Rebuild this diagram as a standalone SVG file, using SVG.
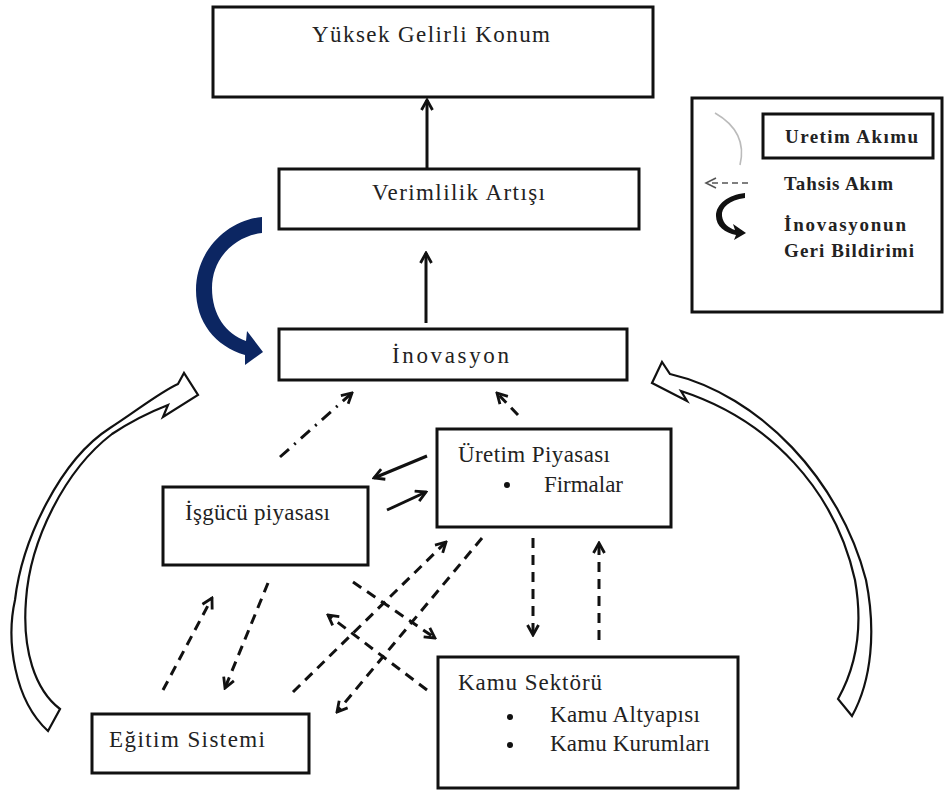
<svg xmlns="http://www.w3.org/2000/svg" width="945" height="792" viewBox="0 0 945 792">
  <style>
    .box { fill: #fff; stroke: #111; stroke-width: 3; }
    .lbl { font-family: "Liberation Serif", "Times New Roman", serif; font-size: 23px; fill: #222; }
    .leg { font-family: "Liberation Serif", "Times New Roman", serif; font-size: 19px; font-weight: bold; fill: #222; }
    .solid { fill: none; stroke: #111; stroke-width: 3; }
    .dash { fill: none; stroke: #111; stroke-width: 3; stroke-dasharray: 10 7; }
    .dashdot { fill: none; stroke: #111; stroke-width: 3; stroke-dasharray: 12 7 2 7; }
    .hollow { fill: #fff; stroke: #111; stroke-width: 2.2; stroke-linejoin: miter; }
  </style>
  <defs>
    <marker id="chev" viewBox="0 0 14 14" refX="12" refY="7" markerWidth="14" markerHeight="14" markerUnits="userSpaceOnUse" orient="auto">
      <polyline points="2,1.5 12,7 2,12.5" fill="none" stroke="#111" stroke-width="2.8" stroke-linejoin="miter"/>
    </marker>
  </defs>

  <rect width="945" height="792" fill="#fff"/>

  <!-- feedback loops -->
  <g id="feedback">
    <path d="M262,217 C228,220 196,250 196,290 C196,322 215,346 245,355 L245,365 L263,352 L247,331 L246,341 C226,334 212,315 212,288 C212,258 235,236 262,233 Z" fill="#0c2662"/>
    <path class="hollow" d="M48,731 C14,700 6,640 15,600 C22,540 60,460 110,428 C135,412 160,392 178,384 L184,373 L198,395 L163,417 L168,405 C150,412 130,422 112,434 C65,470 30,540 26,600 C22,650 35,690 60,709 Z"/>
    <path class="hollow" d="M652,383 L662,362 L670,374 C760,395 840,480 866,580 C876,630 872,680 852,716 L838,699 C860,660 862,620 855,580 C835,490 770,420 681,391 L687,401 Z"/>
  </g>

  <g id="connectors">
    <!-- production chain -->
    <line class="solid" x1="427" y1="168" x2="427" y2="100" marker-end="url(#chev)"/>
    <line class="solid" x1="426" y1="323" x2="426" y2="253" marker-end="url(#chev)"/>
    <!-- labour market <-> production market -->
    <line class="solid" x1="427" y1="456" x2="374" y2="478" marker-end="url(#chev)"/>
    <line class="solid" x1="387" y1="510" x2="426" y2="492" marker-end="url(#chev)"/>
    <!-- allocation flows -->
    <line class="dashdot" x1="280" y1="457" x2="352" y2="393" marker-end="url(#chev)"/>
    <line class="dash" x1="518" y1="415" x2="497" y2="393" marker-end="url(#chev)"/>
    <line class="dash" x1="533" y1="538" x2="533" y2="635" marker-end="url(#chev)"/>
    <line class="dash" x1="599" y1="640" x2="599" y2="543" marker-end="url(#chev)"/>
    <line class="dash" x1="163" y1="690" x2="212" y2="598" marker-end="url(#chev)"/>
    <line class="dash" x1="268" y1="583" x2="225" y2="688" marker-end="url(#chev)"/>
    <line class="dash" x1="293" y1="692" x2="446" y2="542" marker-end="url(#chev)"/>
    <line class="dash" x1="482" y1="538" x2="337" y2="712" marker-end="url(#chev)"/>
    <line class="dash" x1="353" y1="582" x2="435" y2="638" marker-end="url(#chev)"/>
    <line class="dash" x1="427" y1="690" x2="328" y2="615" marker-end="url(#chev)"/>
  </g>

  <g id="yuksek-gelirli-konum">
    <rect class="box" x="213" y="7" width="440" height="90"/>
    <text class="lbl" x="312" y="42" textLength="238" lengthAdjust="spacing">Yüksek Gelirli Konum</text>
  </g>

  <g id="verimlilik-artisi">
    <rect class="box" x="279" y="169" width="360" height="60"/>
    <text class="lbl" x="372" y="200" textLength="173" lengthAdjust="spacing">Verimlilik Artışı</text>
  </g>

  <g id="inovasyon">
    <rect class="box" x="279" y="329" width="348" height="51"/>
    <text class="lbl" x="392" y="363" textLength="117" lengthAdjust="spacing">İnovasyon</text>
  </g>

  <g id="uretim-piyasasi">
    <rect class="box" x="437" y="429" width="234" height="98"/>
    <text class="lbl" x="458" y="462" textLength="152" lengthAdjust="spacing">Üretim Piyasası</text>
    <circle cx="507" cy="485" r="3" fill="#111"/>
    <text class="lbl" x="544" y="492" textLength="79" lengthAdjust="spacing">Firmalar</text>
  </g>

  <g id="isgucu-piyasasi">
    <rect class="box" x="163" y="487" width="205" height="78"/>
    <text class="lbl" x="185" y="520" textLength="145" lengthAdjust="spacing">İşgücü piyasası</text>
  </g>

  <g id="egitim-sistemi">
    <rect class="box" x="92" y="714" width="217" height="59"/>
    <text class="lbl" x="109" y="747" textLength="156" lengthAdjust="spacing">Eğitim Sistemi</text>
  </g>

  <g id="kamu-sektoru">
    <rect class="box" x="438" y="657" width="300" height="131"/>
    <text class="lbl" x="458" y="690" textLength="144" lengthAdjust="spacing">Kamu Sektörü</text>
    <circle cx="510" cy="717" r="3" fill="#111"/>
    <text class="lbl" x="550" y="722" textLength="150" lengthAdjust="spacing">Kamu Altyapısı</text>
    <circle cx="510" cy="745" r="3" fill="#111"/>
    <text class="lbl" x="550" y="751" textLength="160" lengthAdjust="spacing">Kamu Kurumları</text>
  </g>

  <g id="legend">
    <rect class="box" x="692" y="98" width="250" height="214"/>
    <rect class="box" x="763" y="114" width="170" height="44"/>
    <path d="M715,113 Q748,132 740,165" fill="none" stroke="#bbb" stroke-width="1.6"/>
    <text class="leg" x="785" y="143" textLength="133" lengthAdjust="spacing">Uretim Akımu</text>
    <line x1="748" y1="183" x2="708" y2="183" stroke="#555" stroke-width="1.6" stroke-dasharray="6 4"/>
    <polyline points="716,178 706,183 716,188" fill="none" stroke="#555" stroke-width="1.6"/>
    <text class="leg" x="784" y="190" textLength="109" lengthAdjust="spacing">Tahsis Akım</text>
    <path d="M745,198 C729,200 721,208 722,216 C723,224 729,228 735,230 L733,224 L746,233 L734,240 L736,235 C725,233 716,226 716,216 C716,204 728,195 745,193 Z" fill="#111"/>
    <text class="leg" x="784" y="231" textLength="122" lengthAdjust="spacing">İnovasyonun</text>
    <text class="leg" x="784" y="257" textLength="130" lengthAdjust="spacing">Geri Bildirimi</text>
  </g>
</svg>
